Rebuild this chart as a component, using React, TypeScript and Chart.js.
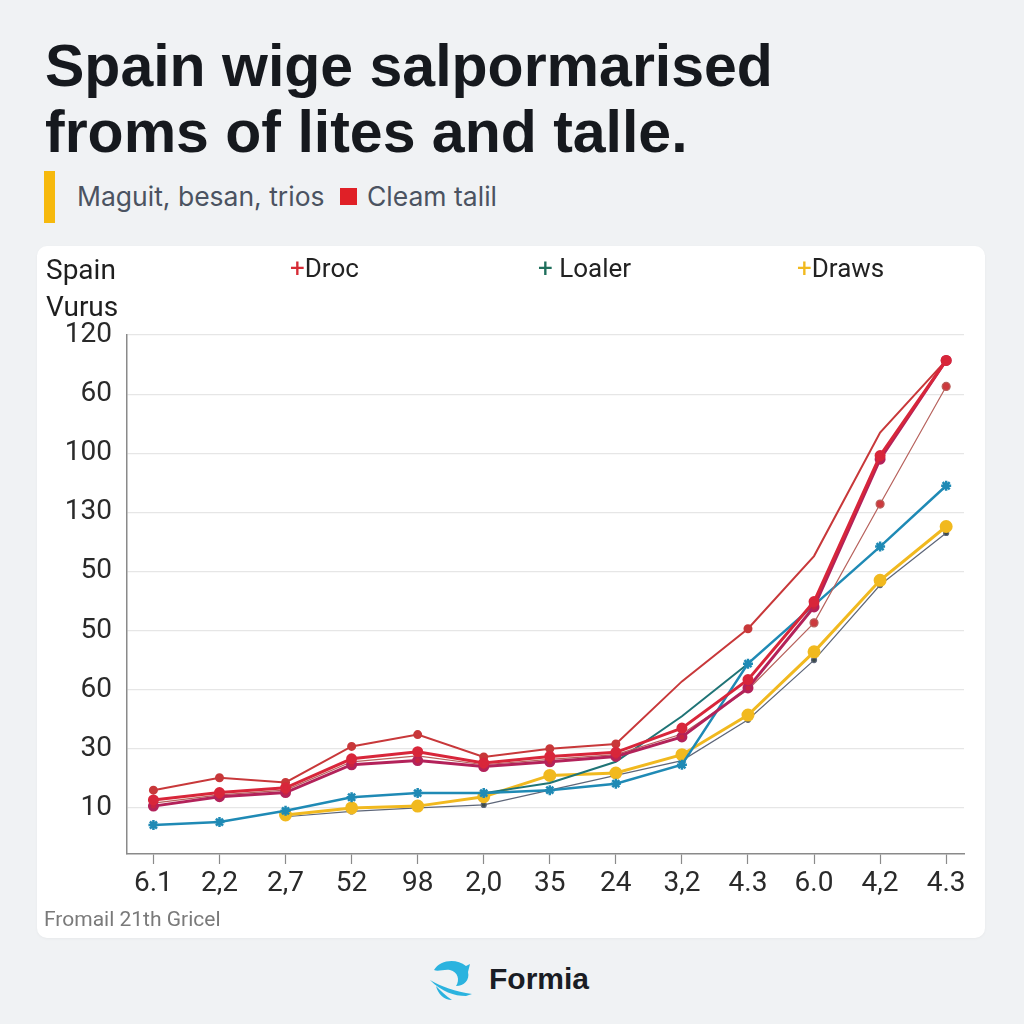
import React, { useEffect, useRef } from 'react';
import { Chart, registerables } from 'chart.js';

Chart.register(...registerables);

// ---- data ----
const xLabels = ['6.1', '2,2', '2,7', '52', '98', '2,0', '35', '24', '3,2', '4.3', '6.0', '4,2', '4.3'];
// tick labels from bottom gridline to top gridline
const yTickLabels = ['10', '30', '60', '50', '50', '130', '100', '60', '120'];

const drocTop = [0.3, 0.51, 0.43, 1.04, 1.24, 0.86, 1.0, 1.08, 2.14, 3.03, 4.26, 6.35, 7.57];
const drocMain = [0.135, 0.26, 0.34, 0.83, 0.95, 0.76, 0.87, 0.94, 1.35, 2.17, 3.49, 5.96, 7.57];
const drocAlt = [0.03, 0.19, 0.26, 0.73, 0.8, 0.7, 0.78, 0.87, 1.2, 2.03, 3.4, 5.9, 7.57];
const drocThin = [0.08, 0.22, 0.3, 0.78, 0.88, 0.73, 0.82, 0.9, 1.25, 2.0, 3.13, 5.14, 7.13];
const loalerBlue = [-0.29, -0.24, -0.05, 0.18, 0.25, 0.25, 0.3, 0.41, 0.73, 2.44, 3.43, 4.42, 5.45];
const loalerTeal = [null, null, null, null, null, 0.25, 0.42, 0.78, 1.55, 2.44, null, null, null];
const drawsYellow = [null, null, -0.12, 0.0, 0.03, 0.19, 0.55, 0.59, 0.9, 1.57, 2.64, 3.85, 4.76];
const drawsGray = [null, null, -0.15, -0.06, 0.0, 0.05, 0.3, 0.55, 0.8, 1.49, 2.5, 3.77, 4.65];

const toPoints = (arr: (number | null)[]) => arr.map((v, i) => ({ x: i, y: v }));

export default function App() {
  const ref = useRef<HTMLCanvasElement>(null);

  useEffect(() => {
    if (!ref.current) return;
    const tickFont = { family: 'Roboto, "Liberation Sans", sans-serif', size: 28 };
    const chart = new Chart(ref.current, {
      type: 'line',
      data: {
        datasets: [
          { label: 'Droc', data: toPoints(drocMain), borderColor: '#d8263a', backgroundColor: '#d8263a', borderWidth: 3, pointRadius: 4, pointStyle: 'circle' },
          { label: 'Droc b', data: toPoints(drocAlt), borderColor: '#b3225a', backgroundColor: '#c8243f', borderWidth: 3, pointRadius: 4 },
          { label: 'Droc c', data: toPoints(drocTop), borderColor: '#c8383a', backgroundColor: '#c8383a', borderWidth: 2, pointRadius: [3.5, 3.5, 3.5, 3.5, 3.5, 3.5, 3.5, 3.5, 0, 3.5, 0, 0, 3.5] as any },
          { label: 'Droc d', data: toPoints(drocThin), borderColor: '#b7615c', backgroundColor: '#cc3a3e', borderWidth: 1.2, pointRadius: [0, 0, 0, 0, 0, 0, 0, 0, 0, 0, 4, 4, 4] as any },
          { label: 'Loaler', data: toPoints(loalerBlue), borderColor: '#1f8ab5', backgroundColor: '#1f8ab5', borderWidth: 2.5, pointRadius: 5, pointStyle: 'star', pointBorderWidth: 2.5 },
          { label: 'Loaler b', data: toPoints(loalerTeal), borderColor: '#1f7476', backgroundColor: '#1f7476', borderWidth: 2, pointRadius: 0, spanGaps: false },
          { label: 'Draws', data: toPoints(drawsYellow), borderColor: '#f1b91f', backgroundColor: '#f1b91f', borderWidth: 3, pointRadius: 5 },
          { label: 'Draws b', data: toPoints(drawsGray), borderColor: '#5d6679', backgroundColor: '#3b4a4a', borderWidth: 1.2, pointRadius: 2.5 },
        ],
      },
      options: {
        responsive: false,
        animation: false,
        layout: { padding: { top: 89, right: 21, left: 0, bottom: 0 } },
        plugins: { legend: { display: false }, tooltip: { enabled: false } },
        scales: {
          x: {
            type: 'linear',
            min: -0.4,
            max: 12.27,
            afterBuildTicks: (s: any) => { s.ticks = xLabels.map((_, i) => ({ value: i })); },
            afterFit: (s: any) => { s.height = 84; },
            ticks: {
              callback: (v: any) => xLabels[v as number] ?? '',
              font: tickFont,
              color: '#2a2a2a',
              padding: 3,
              maxRotation: 0,
              autoSkip: false,
            },
            grid: { drawOnChartArea: false, drawTicks: true, tickLength: 10, tickColor: '#8a8a8a', tickWidth: 1.2 },
            border: { color: '#8a8a8a', width: 1.5 },
          },
          y: {
            type: 'linear',
            min: -0.78,
            max: 8,
            afterBuildTicks: (s: any) => { s.ticks = yTickLabels.map((_, i) => ({ value: i })); },
            afterFit: (s: any) => { s.width = 90; },
            ticks: {
              callback: (v: any) => yTickLabels[v as number] ?? '',
              font: tickFont,
              color: '#2a2a2a',
              padding: 15,
            },
            grid: { drawTicks: false, color: '#e6e6e6', lineWidth: 1.2 },
            border: { color: '#8a8a8a', width: 1.5 },
          },
        },
      },
    });
    return () => chart.destroy();
  }, []);

  const abs = (o: React.CSSProperties): React.CSSProperties => ({ position: 'absolute', whiteSpace: 'nowrap', margin: 0, ...o });
  const sans = 'Roboto, "Liberation Sans", sans-serif';
  const inter = 'Inter, Roboto, sans-serif';

  return (
    <div style={{ position: 'fixed', left: 0, top: 0, width: 1024, height: 1024, background: '#f0f2f4', overflow: 'hidden' }}>
      <div style={abs({ left: 45, top: 33, fontFamily: '"Liberation Sans", Arial, sans-serif', fontWeight: 700, fontSize: 59, lineHeight: '66px', color: '#16191e' })}>
        Spain wige salpormarised<br />froms of lites and talle.
      </div>
      <div style={abs({ left: 44, top: 171, width: 11, height: 52, background: '#f6b90d' })} />
      <div style={abs({ left: 77, top: 180, fontFamily: inter, fontSize: 26.5, color: '#4b5361', lineHeight: '32px' })}>
        Maguit, besan, trios
      </div>
      <div style={abs({ left: 340, top: 188, width: 17, height: 17, background: '#e02027' })} />
      <div style={abs({ left: 367, top: 180, fontFamily: inter, fontSize: 26.5, color: '#4b5361', lineHeight: '32px' })}>
        Cleam talil
      </div>

      <div style={abs({ left: 37, top: 246, width: 948, height: 692, background: '#ffffff', borderRadius: 10, boxShadow: '0 1px 3px rgba(0,0,0,0.04)' })}>
        <canvas ref={ref} width={948} height={692} style={{ display: 'block' }} />
      </div>

      <div style={abs({ left: 46, top: 251, fontFamily: sans, fontSize: 28, color: '#1e1e1e', lineHeight: '37px' })}>
        Spain<br />Vurus
      </div>
      <div style={abs({ left: 290, top: 253, fontFamily: sans, fontSize: 26, color: '#222', lineHeight: '30px' })}>
        <span style={{ color: '#d62b35' }}>+</span>Droc
      </div>
      <div style={abs({ left: 538, top: 253, fontFamily: sans, fontSize: 26, color: '#222', lineHeight: '30px' })}>
        <span style={{ color: '#1f6f5c' }}>+</span> Loaler
      </div>
      <div style={abs({ left: 797, top: 253, fontFamily: sans, fontSize: 26, color: '#222', lineHeight: '30px' })}>
        <span style={{ color: '#f1b91f' }}>+</span>Draws
      </div>

      <div style={abs({ left: 44, top: 906, fontFamily: sans, fontSize: 21, color: '#7a7a7a', lineHeight: '26px' })}>
        Fromail 21th Gricel
      </div>

      <svg style={abs({ left: 426, top: 956 })} width={48} height={48} viewBox="0 0 48 48">
        <path d="M8 14 C14 4, 30 2, 40 10 L44 8 L42 16 C44 24, 38 30, 30 30 C34 24, 32 16, 24 14 C18 13, 12 16, 8 14 Z" fill="#2bb3df" />
        <path d="M4 24 C14 30, 30 36, 46 38 L40 40 C28 40, 16 36, 4 24 Z" fill="#2bb3df" />
        <path d="M10 30 C12 38, 18 44, 26 44 C20 40, 16 36, 10 30 Z" fill="#2bb3df" />
      </svg>
      <div style={abs({ left: 489, top: 960, fontFamily: '"Liberation Sans", Arial, sans-serif', fontWeight: 700, fontSize: 30, color: '#1a1d24', lineHeight: '38px' })}>
        Formia
      </div>
    </div>
  );
}
